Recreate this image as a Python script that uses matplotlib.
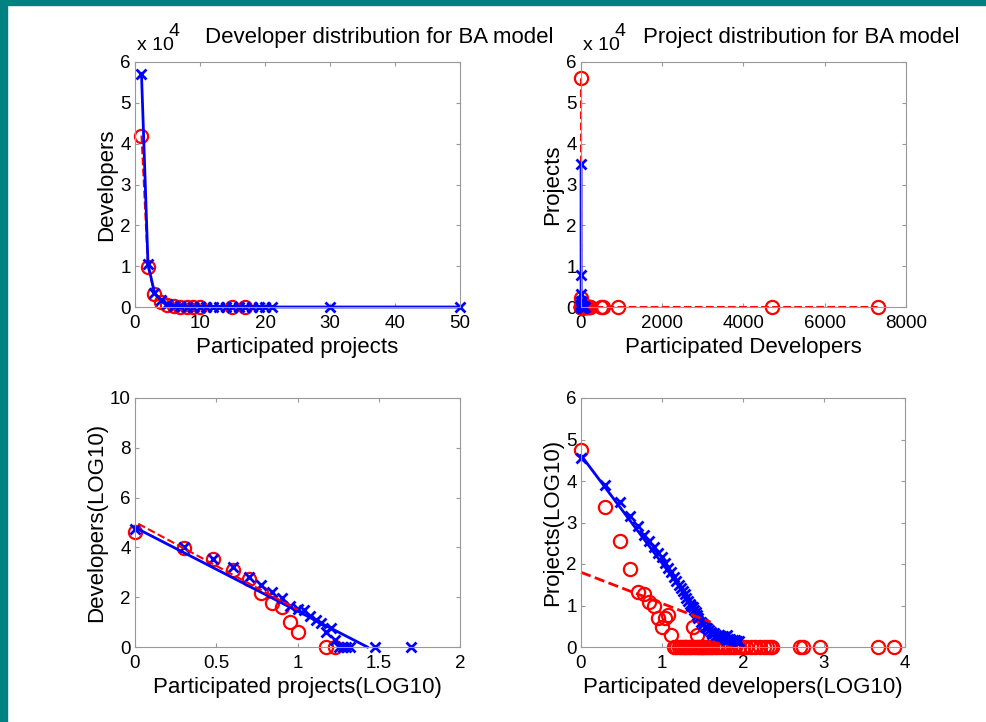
import numpy as np
import matplotlib
matplotlib.use("Agg")
import matplotlib.pyplot as plt
from matplotlib.patches import Rectangle

plt.rcParams['font.family'] = ['Liberation Sans', 'DejaVu Sans']

# developer distribution: participated projects -> developers
dev_k_ba = [1, 2, 3, 4, 5, 6, 7, 8, 9, 10, 11, 12, 13, 14, 15, 16, 17, 18, 19, 20, 21, 30, 50]
dev_n_ba = [57000, 10500, 3500, 1600, 630, 320, 160, 90, 45, 35, 30, 18, 12, 9, 4, 6, 2, 1, 1, 1, 1, 1, 1]
dev_k_real = [1, 2, 3, 4, 5, 6, 7, 8, 9, 10, 15, 17]
dev_n_real = [42000, 9800, 3300, 1200, 550, 150, 60, 40, 10, 4, 1, 1]

# project distribution: participated developers -> projects
prj_k_ba = [1, 2, 3, 4, 5, 6, 7, 8, 9, 10, 11, 12, 13, 14, 15, 16, 17, 18, 19, 20,
            21, 22, 23, 24, 25, 26, 27, 28, 30, 32, 34, 36, 38, 40, 42, 44, 46, 50, 53,
            56, 60, 63, 66, 70, 75, 80, 85, 90]
prj_n_ba = [35000, 7900, 3200, 1400, 810, 510, 350, 250, 185, 145, 107, 81, 63, 49, 40, 32, 26, 22, 19, 15,
            13, 11, 10, 9, 8, 7, 6, 5, 4, 3.5, 3.1, 2.8, 2.5, 2.3, 2.1, 2.2, 2, 1.9, 1.8,
            1.8, 1.7, 1.9, 1.6, 1.6, 1.5, 1.5, 1.4, 1.4]
prj_k_real = [1, 2, 3, 4, 5, 6, 7, 8, 9, 10, 11, 12, 13, 14, 15, 16, 17, 18, 19, 20, 21, 22, 23,
              24, 25, 26, 27, 28, 29, 30, 31, 32, 34, 36, 38, 40, 42, 45, 48, 52, 56, 60, 65, 70,
              75, 80, 90, 100, 110, 125, 140, 160, 180, 200, 215, 225, 500, 550, 900, 4700, 7300]
prj_n_real = [56000, 2300, 350, 75, 21, 19, 12, 10, 5, 3, 5, 6, 2, 1, 1, 1, 1, 1, 1, 1, 1, 1, 1,
              3, 1, 1, 2, 1, 1, 1, 1, 1, 1, 1, 1, 1, 1, 1, 1, 1, 1, 1, 1, 1,
              1, 1, 1, 1, 1, 1, 1, 1, 1, 1, 1, 1, 1, 1, 1, 1, 1]

# fitted lines in log10 space (end points)
dev_fit_ba_x = [0, 1.43]
dev_fit_ba_y = [4.8, 0]
dev_fit_real_x = [0.02, 1.0]
dev_fit_real_y = [4.95, 1.5]
prj_fit_ba_x = [0, 1.75]
prj_fit_ba_y = [4.62, 0.07]
prj_fit_real_x = [0, 1.6]
prj_fit_real_y = [1.8, 0.6]

fig = plt.figure(figsize=(9.87, 7.22), dpi=100)
fig.patches.append(Rectangle((0, 0), 7 / 987, 1, transform=fig.transFigure, color='#008080', zorder=0))
fig.patches.append(Rectangle((0, 1 - 5 / 722), 1, 5 / 722, transform=fig.transFigure, color='#008080', zorder=0))

ax1 = fig.add_axes([135 / 987, 1 - 307 / 722, 325 / 987, 245 / 722])
ax2 = fig.add_axes([581 / 987, 1 - 307 / 722, 325 / 987, 245 / 722])
ax3 = fig.add_axes([135 / 987, 1 - 647 / 722, 325 / 987, 249 / 722])
ax4 = fig.add_axes([581 / 987, 1 - 647 / 722, 324 / 987, 249 / 722])

mk_o = dict(marker='o', markersize=9.5, markerfacecolor='none', markeredgewidth=1.6)
mk_x = dict(marker='x', markersize=7, markeredgewidth=2)

# top left
ax1.plot(dev_k_real, np.array(dev_n_real) / 1e4, color='red', linestyle='--', linewidth=1.5, **mk_o)
ax1.plot(dev_k_ba, np.array(dev_n_ba) / 1e4, color='blue', linestyle='-', linewidth=2, **mk_x)
ax1.set_xlim(0, 50)
ax1.set_ylim(0, 6)
ax1.set_xticks([0, 10, 20, 30, 40, 50])
ax1.set_xlabel("Participated projects")
ax1.set_ylabel("Developers")

# top right
ax2.plot(prj_k_real, np.array(prj_n_real) / 1e4, color='red', linestyle='--', linewidth=1.5, **mk_o)
ax2.plot(prj_k_ba, np.array(prj_n_ba) / 1e4, color='blue', linestyle='-', linewidth=2, **mk_x)
ax2.set_xlim(0, 8000)
ax2.set_ylim(0, 6)
ax2.set_xticks([0, 2000, 4000, 6000, 8000])
ax2.set_xlabel("Participated Developers")
ax2.set_ylabel("Projects")

# bottom left (log10)
ax3.plot(np.log10(dev_k_real), np.log10(dev_n_real), color='red', linestyle='none', **mk_o)
ax3.plot(np.log10(dev_k_ba), np.log10(dev_n_ba), color='blue', linestyle='none', **mk_x)
ax3.plot(dev_fit_ba_x, dev_fit_ba_y, color='blue', linestyle='-', linewidth=2)
ax3.plot(dev_fit_real_x, dev_fit_real_y, color='red', linestyle='--', linewidth=1.5)
ax3.set_xlim(0, 2)
ax3.set_ylim(0, 10)
ax3.set_xticks([0, 0.5, 1, 1.5, 2])
ax3.set_xticklabels(["0", "0.5", "1", "1.5", "2"])
ax3.set_xlabel("Participated projects(LOG10)")
ax3.set_ylabel("Developers(LOG10)")

# bottom right (log10)
ax4.plot(np.log10(prj_k_real), np.log10(prj_n_real), color='red', linestyle='none', **mk_o)
ax4.plot(np.log10(prj_k_ba), np.log10(prj_n_ba), color='blue', linestyle='none', **mk_x)
ax4.plot(prj_fit_ba_x, prj_fit_ba_y, color='blue', linestyle='-', linewidth=2)
ax4.plot(prj_fit_real_x, prj_fit_real_y, color='red', linestyle='--', linewidth=2)
ax4.set_xlim(0, 4)
ax4.set_ylim(0, 6)
ax4.set_xticks([0, 1, 2, 3, 4])
ax4.set_xlabel("Participated developers(LOG10)")
ax4.set_ylabel("Projects(LOG10)")

for ax in [ax1, ax2, ax3, ax4]:
    ax.tick_params(direction='in', top=True, right=True, labelsize=13.5, length=3, color='#999999', pad=3)
    ax.tick_params(axis='x', pad=6)
    ax.xaxis.label.set_size(16)
    ax.yaxis.label.set_size(16)
    ax.xaxis.labelpad = 3
    ax.yaxis.labelpad = 2
    for s in ax.spines.values():
        s.set_color('#999999')
    for ln in ax.lines:
        ln.set_clip_on(False)

# titles and exponent labels
fig.text(379 / 987, 1 - 37 / 722, "Developer distribution for BA model", ha='center', va='center', fontsize=16)
fig.text(801 / 987, 1 - 37 / 722, "Project distribution for BA model", ha='center', va='center', fontsize=16)
for x0 in [137, 583]:
    fig.text(x0 / 987, 1 - 50 / 722, "x 10", ha='left', va='baseline', fontsize=14)
    fig.text((x0 + 32) / 987, 1 - 36 / 722, "4", ha='left', va='baseline', fontsize=14)

plt.savefig("out.png", dpi=100)
